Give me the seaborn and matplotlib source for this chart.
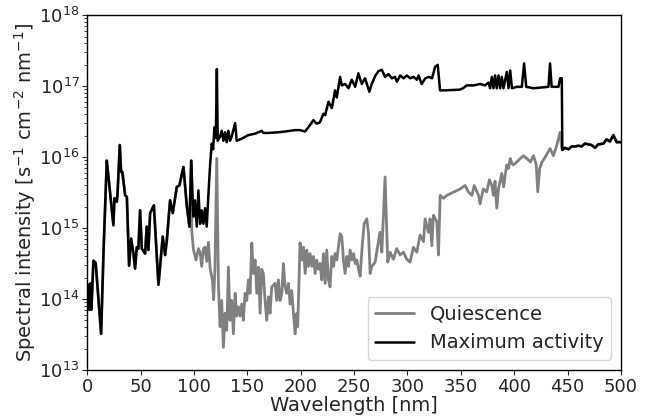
import numpy as np
import pandas as pd
import matplotlib
matplotlib.use("Agg")
import matplotlib.pyplot as plt
import seaborn as sns

# Shared part (0-97 nm) where both spectra coincide: wavelength [nm], log10 intensity
wl_short = [0, 1, 2, 3, 4, 5.9, 8, 10, 13.1, 15.3, 18.4, 20, 24.6, 25.6, 27.8, 28.4, 30.6,
            31.8, 33, 35.6, 37.2, 39.3, 41.2, 43.4, 44.9, 46.5, 48, 49.6, 51.2, 54.3, 55.8,
            57.4, 59, 62.5, 65.2, 66.8, 70.8, 73, 74.6, 77.7, 80.2, 84, 86.4, 90.2, 93.3,
            95.8, 97.5]
log_short = [13.99, 14.20, 13.85, 14.22, 13.85, 14.54, 14.51, 14.11, 13.51, 14.64, 15.95, 15.72,
             15.04, 15.42, 15.37, 15.46, 16.17, 15.79, 15.79, 15.46, 15.44, 14.47, 14.85, 14.64,
             14.43, 14.73, 14.71, 15.25, 14.71, 14.64, 15.02, 14.69, 15.21, 15.32, 14.60, 14.20,
             14.88, 14.62, 14.82, 15.39, 15.21, 15.58, 15.60, 15.86, 15.32, 15.02, 15.95]

# Maximum activity, 98-445 nm
wl_max = [99.5, 101, 102.7, 104.2, 105.8, 107.3, 108.9, 110.4, 112, 113.6, 115.2, 116.7, 118,
          119.2, 120.5, 121.5, 122.3, 124.5, 126, 127.6, 129.2, 130.7, 132.3, 133.8, 135.4,
          138.6, 140.1, 144.8, 151, 157.3, 163.5, 165, 169.8, 179.1, 185.3, 194.8, 199.4,
          204, 207.2, 211.9, 215, 218, 221.3, 222.9, 226, 229.2, 232.2, 233.8, 236.9, 238.5,
          241.6, 244.8, 247.8, 251, 254, 257.2, 260.3, 264.3, 266.5, 270, 272.8, 276, 279,
          282.2, 285.3, 288.4, 290, 293.2, 296.3, 299.4, 302.5, 305.7, 308.8, 310.4, 313.3,
          316.7, 319.9, 323, 325.8, 328.3, 330.5, 335, 349, 352, 355.5, 361.8, 368, 372.7,
          375.8, 377.4, 379, 380.5, 382, 383.6, 385.2, 386.8, 388.3, 389.9, 393, 394.6,
          396.2, 397.8, 402.4, 407.1, 409.2, 411.2, 418, 432, 433.5, 435, 441.4, 442.9, 444.5]
log_max = [15.16, 15.39, 15.02, 15.53, 15.06, 15.25, 15.06, 15.28, 15.02, 15.48, 15.90, 16.19,
           16.11, 16.42, 16.27, 17.24, 16.23, 16.29, 16.37, 16.23, 16.35, 16.21, 16.37, 16.23,
           16.29, 16.48, 16.23, 16.26, 16.31, 16.33, 16.37, 16.34, 16.34, 16.35, 16.36, 16.38,
           16.38, 16.36, 16.42, 16.52, 16.47, 16.49, 16.61, 16.59, 16.78, 16.69, 16.94, 16.84,
           17.13, 17.01, 17.03, 16.97, 17.09, 16.99, 17.18, 17.03, 17.11, 16.92, 17.03, 17.15,
           17.21, 17.23, 17.13, 17.17, 17.11, 17.13, 17.06, 17.15, 17.11, 17.15, 17.11, 17.13,
           17.09, 17.15, 17.03, 17.11, 17.13, 17.11, 17.27, 17.30, 16.94, 16.94, 16.95, 16.97,
           17.01, 17.01, 17.03, 17.01, 17.05, 16.97, 17.13, 16.97, 17.15, 16.97, 17.15, 16.97,
           17.13, 16.97, 17.20, 16.97, 17.22, 16.97, 16.99, 16.99, 17.32, 16.99, 16.97, 16.99,
           17.32, 16.99, 16.99, 17.11, 17.11]

# Quiescence, 98-445 nm
wl_quiet = [98, 99.5, 102, 104.2, 105.8, 107.3, 109, 110.5, 112, 113.6, 115.2, 117.3, 118.5,
            119.7, 121.4, 123, 124.5, 126, 127.6, 129.2, 130.7, 132.3, 133.8, 135.4, 137,
            138.6, 140.1, 141.7, 143.2, 144.8, 146.3, 147.9, 149.5, 151, 152.6, 154.2, 155.7,
            157.3, 158.9, 160.4, 162, 163.5, 165, 166.6, 168.2, 169.8, 171.3, 172.9, 176,
            177.6, 179.1, 180.7, 182.3, 183.8, 185.4, 186.9, 188.5, 190.1, 191.6, 193.2,
            194.8, 196.4, 197.2, 199.4, 201, 202.6, 204.2, 205.7, 207.2, 208.8, 210.4, 212,
            213.5, 215, 216.6, 218.2, 219.7, 221.3, 222.9, 224.4, 226, 227.5, 229.1, 230.7,
            232.2, 233.8, 236.9, 238.5, 240, 241.6, 243.2, 244.8, 246.3, 248, 249.5, 251,
            252.6, 254.2, 255.7, 257.3, 259.4, 261.9, 263.5, 265, 266.6, 269.7, 272.8, 274.3,
            276, 279, 281.5, 283.7, 286.8, 289.9, 293.1, 296.2, 299.3, 302.4, 305.6, 308.7,
            311.8, 315, 316.5, 319.6, 321.2, 322.8, 324.3, 327.5, 329, 330.6, 333.7, 336.8,
            349.3, 354, 357, 360.3, 362.5, 366.5, 368, 371, 374.2, 376.7, 379, 380.5, 382,
            383.6, 385.2, 386.8, 388.3, 390, 391.5, 393, 394.6, 396.2, 397.8, 399.3, 402.4,
            405.6, 408.7, 411.8, 415, 418, 420.6, 422, 423.8, 426, 429, 433.5, 436.6, 439.7,
            442.9, 444.5]
log_quiet = [14.97, 14.70, 14.55, 14.71, 14.66, 14.46, 14.71, 14.73, 14.53, 14.80, 14.43, 14.27,
             13.99, 14.43, 15.98, 14.17, 13.61, 13.98, 13.32, 13.80, 13.56, 14.45, 13.70, 13.98,
             13.51, 14.08, 13.76, 13.89, 13.76, 13.93, 13.70, 14.08, 13.98, 14.27, 14.08,
             14.79, 14.36, 14.55, 14.08, 14.45, 13.80, 14.42, 14.36, 13.98, 13.70, 14.03, 13.80,
             14.17, 14.22, 13.98, 14.27, 13.98, 14.08, 14.50, 14.17, 14.08, 14.22, 13.93, 14.12,
             13.80, 13.51, 13.80, 13.61, 14.79, 14.55, 14.73, 14.36, 14.69, 14.46, 14.64, 14.46,
             14.60, 14.36, 14.55, 14.42, 14.50, 14.27, 14.64, 14.22, 14.69, 14.27, 14.17, 14.60,
             14.46, 14.64, 14.55, 14.92, 14.88, 14.55, 14.36, 14.60, 14.46, 14.69, 14.55, 14.64,
             14.50, 14.55, 14.42, 14.32, 14.69, 15.06, 15.13, 14.92, 14.36, 14.46, 14.52, 14.81,
             14.94, 14.66, 15.72, 14.52, 14.66, 14.56, 14.71, 14.62, 14.66, 14.56, 14.52,
             14.73, 14.66, 14.90, 14.81, 15.13, 14.94, 15.13, 14.75, 15.18, 15.09, 14.62,
             15.46, 15.42, 15.46, 15.55, 15.60, 15.51, 15.46, 15.60, 15.46, 15.34, 15.55,
             15.51, 15.68, 15.60, 15.46, 15.66, 15.28, 15.55, 15.66, 15.77, 15.58, 15.75, 15.89,
             15.84, 15.98, 15.91, 15.89, 15.93, 15.98, 16.02, 15.98, 15.93, 16.02, 15.89,
             15.51, 15.84, 15.93, 16.00, 16.12, 16.02, 16.16, 16.35, 16.12]

# Shared part (445-500 nm)
wl_long = [445, 447.6, 450.7, 453.8, 457, 460, 463, 466.2, 469.3, 472.4, 475.6, 478.7, 483.4,
           486.5, 489.6, 492.8, 495.9, 499, 500]
log_long = [16.10, 16.13, 16.11, 16.15, 16.15, 16.16, 16.15, 16.19, 16.18, 16.17, 16.13, 16.18,
            16.19, 16.25, 16.22, 16.31, 16.21, 16.21, 16.21]

series_names = ["Quiescence", "Maximum activity"]
series_colors = ["gray", "black"]

q = pd.DataFrame({"wl": wl_short + wl_quiet + wl_long,
                  "I": 10.0 ** np.array(log_short + log_quiet + log_long)})
m = pd.DataFrame({"wl": wl_short + wl_max + wl_long,
                  "I": 10.0 ** np.array(log_short + log_max + log_long)})

sns.set_style("ticks")
plt.rcParams["font.family"] = ["DejaVu Sans"]

fig = plt.figure(figsize=(6.6, 4.16), dpi=100)
ax = fig.add_axes([0.132, 0.1106, 0.809, 0.853])

sns.lineplot(data=q, x="wl", y="I", ax=ax, color=series_colors[0], lw=2.0,
             label=series_names[0], estimator=None, sort=False)
sns.lineplot(data=m, x="wl", y="I", ax=ax, color=series_colors[1], lw=1.8,
             label=series_names[1], estimator=None, sort=False)

ax.set_yscale("log")
ax.set_xlim(0, 500)
ax.set_ylim(1e13, 1e18)
ax.set_xticks(np.arange(0, 501, 50))
ax.tick_params(labelsize=13, pad=2)
ax.set_xlabel("Wavelength [nm]", fontsize=14, labelpad=0)
ax.set_ylabel("Spectral intensity [s$^{-1}$ cm$^{-2}$ nm$^{-1}$]", fontsize=14, labelpad=1)
for s in ax.spines.values():
    s.set_color("black")
    s.set_linewidth(1.0)
ax.legend(loc="lower right", fontsize=14, frameon=True)

fig.savefig("out.png", dpi=100)
